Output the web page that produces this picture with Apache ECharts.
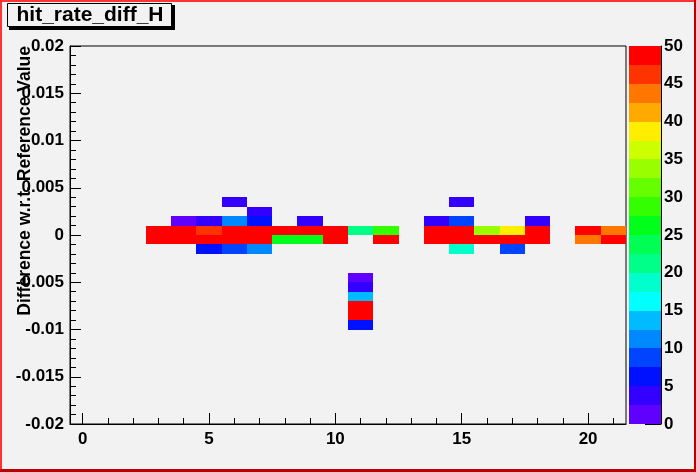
<!DOCTYPE html>
<html>
<head>
<meta charset="utf-8">
<script src="https://cdn.jsdelivr.net/npm/echarts@6/dist/echarts.min.js"></script>
<style>
html,body{margin:0;padding:0;background:#f2f2f2;}
#chart{width:696px;height:472px;}
</style>
</head>
<body>
<div id="chart"></div>
<script>
// ---- data ----
var xBins = [0,1,2,3,4,5,6,7,8,9,10,11,12,13,14,15,16,17,18,19,20,21];
// y bin centres (bin width 0.001)
var yCenters = [0.0035, 0.0025, 0.0015, 0.0005, -0.0005, -0.0015, -0.0045, -0.0055, -0.0065, -0.0075, -0.0085, -0.0095];
// one row of 22 x-bins per y bin centre (null = empty)
var row_p0035 = [null,null,null,null,null,null,4,null,null,null,null,null,null,null,null,4,null,null,null,null,null,null];
var row_p0025 = [null,null,null,null,null,null,null,4,null,null,null,null,null,null,null,null,null,null,null,null,null,null];
var row_p0015 = [null,null,null,null,1,4,11,6,null,4,null,null,null,null,4,9,null,null,4,null,null,null];
var row_p0005 = [null,null,null,49,49,46,49,49,49,49,49,21,29,null,49,49,34,39,49,null,49,44];
var row_m0005 = [null,null,null,50,49,49,49,49,26,26,49,null,49,null,49,49,49,49,49,null,44,49];
var row_m0015 = [null,null,null,null,null,6,9,11,null,null,null,null,null,null,null,19,null,9,null,null,null,null];
var row_m0045 = [null,null,null,null,null,null,null,null,null,null,null,1,null,null,null,null,null,null,null,null,null,null];
var row_m0055 = [null,null,null,null,null,null,null,null,null,null,null,4,null,null,null,null,null,null,null,null,null,null];
var row_m0065 = [null,null,null,null,null,null,null,null,null,null,null,14,null,null,null,null,null,null,null,null,null,null];
var row_m0075 = [null,null,null,null,null,null,null,null,null,null,null,49,null,null,null,null,null,null,null,null,null,null];
var row_m0085 = [null,null,null,null,null,null,null,null,null,null,null,49,null,null,null,null,null,null,null,null,null,null];
var row_m0095 = [null,null,null,null,null,null,null,null,null,null,null,6,null,null,null,null,null,null,null,null,null,null];
var rows = [row_p0035,row_p0025,row_p0015,row_p0005,row_m0005,row_m0015,row_m0045,row_m0055,row_m0065,row_m0075,row_m0085,row_m0095];

var xMajorTicks = [0,5,10,15,20];
var xMinorTicks = [1,2,3,4,6,7,8,9,11,12,13,14,16,17,18,19,21];
var zMin = 0, zMax = 50, zBands = 20;
var palette = ['#6000ff','#3300ff','#0011ff','#0044ff','#0088ff','#00bbff','#00ffff','#00ffcc',
               '#00ff88','#00ff55','#00ff1a','#33ff00','#66ff00','#99ff00','#ccff00','#ffee00',
               '#ffaa00','#ff7700','#ff3300','#ff0000'];
var yTitle = 'Difference w.r.t. Reference Value';
var histTitle = 'hit_rate_diff_H';

// ---- build ----
var cells = [];
for (var r = 0; r < rows.length; r++) {
  for (var i = 0; i < xBins.length; i++) {
    if (rows[r][i] !== null) cells.push([xBins[i], yCenters[r], rows[r][i]]);
  }
}
var bandW = (zMax - zMin) / zBands;
var bands = [];
for (var b = 0; b < zBands; b++) bands.push([zMin + b*bandW, zMin + (b+1)*bandW, b]);
function colorFor(v) {
  var k = Math.floor((v - zMin) / bandW);
  if (k < 0) k = 0; if (k > zBands-1) k = zBands-1;
  return palette[k];
}
function snapRect(p1, p2) {
  var x1 = Math.round(p1[0]), y1 = Math.round(p1[1]), x2 = Math.round(p2[0]), y2 = Math.round(p2[1]);
  return {x: x1, y: y1, width: x2 - x1, height: y2 - y1};
}

var FONT = '"Liberation Sans", Arial, Helvetica, sans-serif';
var lblStyle = {fontFamily: FONT, fontWeight: 'bold', fontSize: 17, color: '#000'};

var chart = echarts.init(document.getElementById('chart'), null, {renderer: 'canvas'});
chart.setOption({
  backgroundColor: '#f2f2f2',
  animation: false,
  grid: [
    {left: 70, top: 46, width: 556, height: 378, show: true, borderColor: '#000', borderWidth: 1, backgroundColor: 'transparent', containLabel: false},
    {left: 629, top: 46, width: 32, height: 378, show: false, containLabel: false}
  ],
  xAxis: [
    {type: 'value', gridIndex: 0, min: -0.5, max: 21.5, position: 'bottom',
     axisLine: {show: true, onZero: false, lineStyle: {color: '#000', width: 1}},
     axisTick: {show: true, inside: true, length: 11, customValues: xMajorTicks, lineStyle: {color: '#000'}},
     axisLabel: Object.assign({show: true, margin: 7, customValues: xMajorTicks}, lblStyle),
     splitLine: {show: false}},
    {type: 'value', gridIndex: 0, min: -0.5, max: 21.5, position: 'bottom', offset: 0,
     axisLine: {show: false, onZero: false},
     axisTick: {show: true, inside: true, length: 6, customValues: xMinorTicks, lineStyle: {color: '#000'}},
     axisLabel: {show: false},
     splitLine: {show: false}},
    {type: 'value', gridIndex: 1, min: 0, max: 1, show: false}
  ],
  yAxis: [
    {type: 'value', gridIndex: 0, min: -0.02, max: 0.02, interval: 0.005, position: 'left',
     axisLine: {show: true, onZero: false, lineStyle: {color: '#000', width: 1}},
     axisTick: {show: true, inside: true, length: 11, lineStyle: {color: '#000'}},
     minorTick: {show: true, splitNumber: 5, length: 6, lineStyle: {color: '#000'}},
     axisLabel: Object.assign({show: true, margin: 6, formatter: function(v){ return String(+v.toFixed(4)); }}, lblStyle),
     splitLine: {show: false}, minorSplitLine: {show: false}},
    {type: 'value', gridIndex: 1, min: 0, max: 50, interval: 5, position: 'right',
     axisLine: {show: true, onZero: false, lineStyle: {color: '#000', width: 1}},
     axisTick: {show: true, inside: true, length: 16, lineStyle: {color: '#000'}},
     axisLabel: Object.assign({show: true, margin: 3}, lblStyle),
     splitLine: {show: false}}
  ],
  series: [
    {type: 'custom', xAxisIndex: 0, yAxisIndex: 0, data: cells, clip: true,
     renderItem: function(params, api) {
       var x = api.value(0), y = api.value(1), v = api.value(2);
       var p1 = api.coord([x - 0.5, y + 0.0005]);
       var p2 = api.coord([x + 0.5, y - 0.0005]);
       return {type: 'rect', shape: snapRect(p1, p2), style: {fill: colorFor(v), stroke: null}};
     }, z: 1},
    {type: 'custom', xAxisIndex: 2, yAxisIndex: 1, data: bands,
     renderItem: function(params, api) {
       var lo = api.value(0), hi = api.value(1), k = api.value(2);
       var p1 = api.coord([0, hi]);
       var p2 = api.coord([1, lo]);
       return {type: 'rect', shape: snapRect(p1, p2), style: {fill: palette[k], stroke: null}};
     }, z: 1}
  ],
  graphic: [
    // canvas border
    {type: 'rect', shape: {x: 0, y: 0, width: 2, height: 472}, style: {fill: '#ff3333'}, z: 100},
    {type: 'rect', shape: {x: 0, y: 0, width: 696, height: 2}, style: {fill: '#ff3333'}, z: 100},
    {type: 'rect', shape: {x: 694, y: 0, width: 2, height: 472}, style: {fill: '#bb0000'}, z: 101},
    {type: 'rect', shape: {x: 0, y: 469, width: 696, height: 3}, style: {fill: '#bb0000'}, z: 101},
    // title box with shadow
    {type: 'rect', shape: {x: 9, y: 5, width: 166, height: 25}, style: {fill: '#000'}, z: 50},
    {type: 'rect', shape: {x: 7.5, y: 3.5, width: 164, height: 23}, style: {fill: '#f2f2f2', stroke: '#000', lineWidth: 1}, z: 51},
    {type: 'text', x: 90, y: 15.5, style: {text: histTitle, fontFamily: FONT, fontWeight: 'bold', fontSize: 21, fill: '#000', align: 'center', verticalAlign: 'middle'}, z: 52},
    // y axis title
    {type: 'text', x: 34, y: 46, rotation: Math.PI/2, style: {text: yTitle, fontFamily: FONT, fontWeight: 'bold', fontSize: 17.5, fill: '#000', align: 'right', verticalAlign: 'bottom'}, z: 60}
  ]
});
</script>
</body>
</html>
